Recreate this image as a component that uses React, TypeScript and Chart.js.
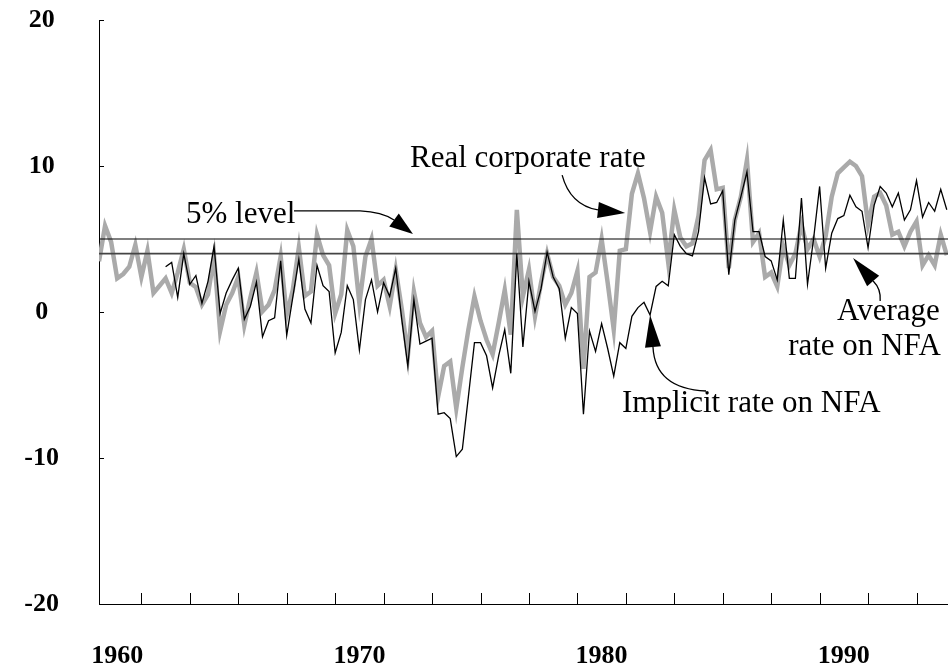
import React, { useEffect, useRef } from 'react';
import { Chart, registerables } from 'chart.js';

Chart.register(...registerables);

// ---- data -------------------------------------------------------------
// quarterly observations; first quarter plotted sits at START_YEAR
const START_YEAR = 1959.25;
const X_MIN = 1959.25;
const X_MAX = 1994.3;

const realCorporateRate = [
  3.47, 5.9, 4.8, 2.3, 2.6, 3.1, 4.6, 2.4, 4.2, 1.3,
  1.8, 2.3, 1.3, 2.7, 4.3, 2.0, 1.7, 0.5, 1.2, 3.8,
  -1.3, 0.5, 1.3, 2.4, -0.9, 1.0, 2.7, 0.05, 0.5, 1.5,
  3.8, -0.2, 1.5, 4.4, 1.1, 1.4, 5.3, 3.9, 3.2, -0.1,
  1.2, 5.6, 4.5, 0.6, 3.8, 5.0, 1.8, 2.2, 0.4, 2.9,
  0.2, -3.0, 1.4, -0.75, -1.7, -1.3, -5.8, -3.7, -3.4, -6.6,
  -3.8, -1.2, 1.07, -0.6, -1.9, -2.9, -0.75, 1.5, -1.55, 7.0,
  1.07, 2.9, -0.3, 2.0, 4.0, 2.4, 1.8, 0.5, 1.3, 2.8,
  -3.9, 2.4, 2.7, 5.0, 2.0, -1.2, 4.2, 4.3, 8.1, 9.5,
  7.8, 5.5, 7.9, 6.8, 3.4, 7.0, 5.1, 4.5, 4.7, 6.6,
  10.4, 11.1, 8.4, 8.5, 3.0, 6.3, 7.9, 10.4, 4.8, 5.4,
  2.4, 2.7, 1.75, 4.5, 3.2, 4.0, 6.0, 4.3, 5.0, 3.8,
  5.2, 7.9, 9.5, 9.9, 10.3, 10.0, 9.3, 6.0, 7.9, 8.15,
  7.3, 5.3, 5.5, 4.5, 5.5, 6.2, 3.2, 3.9, 3.2, 5.3,
  3.9,
];

// implicit rate starts 11 quarters after the corporate rate
const IMPLICIT_START = 11;
const implicitRateNFA = [
  3.1, 3.4, 1.0, 4.0, 1.9, 2.5, 0.6, 2.1, 4.5,
  -0.1, 1.3, 2.2, 3.0, -0.5, 0.4, 2.05, -1.7, -0.6, -0.4,
  3.5, -1.6, 1.0, 3.6, 0.2, -0.75, 3.2, 1.8, 1.4, -2.8,
  -1.4, 1.8, 0.85, -2.6, 0.85, 2.2, 0.0, 2.0, 1.07, 3.0,
  -0.5, -3.7, 0.85, -2.2, -2.0, -1.8, -7.0, -6.9, -7.3, -9.9,
  -9.4, -5.8, -2.1, -2.1, -3.0, -5.2, -3.0, -1.2, -4.2, 4.0,
  -2.4, 2.1, 0.04, 1.6, 4.1, 2.4, 1.6, -1.8, 0.3, -0.1,
  -7.0, -1.3, -2.7, -0.8, -2.5, -4.4, -2.1, -2.5, -0.3, 0.3,
  0.66, -0.2, 1.75, 2.1, 1.8, 5.3, 4.5, 4.0, 3.85, 5.5,
  9.2, 7.4, 7.5, 8.3, 2.55, 6.3, 7.9, 9.6, 5.5, 5.5,
  3.8, 3.5, 2.2, 6.3, 2.3, 2.3, 7.8, 1.9, 5.0, 8.6,
  3.0, 5.4, 6.4, 6.6, 8.0, 7.2, 6.9, 4.4, 7.3, 8.6,
  8.15, 7.2, 8.15, 6.3, 7.0, 9.0, 6.5, 7.5, 6.9, 8.4,
  7.0,
];

const fivePercentLevel = 5;
const averageRateNFA = 4;

const yTicks = [-20, -10, 0, 10, 20];
const xLabelYears = [1960, 1970, 1980, 1990];
const xTickMarkYears = [
  1961, 1963, 1965, 1967, 1969, 1971, 1973, 1975, 1977,
  1979, 1981, 1983, 1985, 1987, 1989, 1991, 1993,
];

// annotation texts, anchored in data coordinates [year, value]
const annotationTexts = [
  { text: '5% level', at: [1962.84, 6.1] },
  { text: 'Real corporate rate', at: [1972.09, 9.93] },
  { text: 'Implicit rate on NFA', at: [1980.84, -6.85] },
  { text: 'Average', at: [1989.72, -0.55] },
  { text: 'rate on NFA', at: [1987.7, -2.95] },
];

// arrows: start, optional straight point, quadratic control, head base, tip
const annotationArrows = [
  { start: [1967.3, 6.92], line: [1970.03, 6.92], ctrl: [1970.93, 6.85], base: [1971.43, 6.3], tip: [1972.21, 5.34] },
  { start: [1978.37, 9.38], ctrl: [1978.7, 7.33], base: [1979.85, 6.99], tip: [1980.97, 6.78] },
  { start: [1984.31, -5.41], ctrl: [1982.21, -5.27], base: [1982.12, -2.4], tip: [1982.0, -0.21] },
  { start: [1991.5, 0.75], ctrl: [1991.54, 1.58], base: [1991.21, 2.12], tip: [1990.38, 3.7] },
];

const quarterYear = (i: number) => START_YEAR + i / 4;

const SERIF = '"Liberation Serif", "Times New Roman", serif';

const overlayPlugin = {
  id: 'overlay',
  afterDatasetsDraw(chart: any) {
    const { ctx, scales } = chart;
    const xs = scales.x;
    const ys = scales.y;
    const P = (p: number[]) => [xs.getPixelForValue(p[0]), ys.getPixelForValue(p[1])];
    ctx.save();
    // inner tick marks
    ctx.strokeStyle = '#000';
    ctx.lineWidth = 1;
    const left = chart.chartArea.left;
    const bottom = chart.chartArea.bottom;
    ctx.beginPath();
    yTicks.forEach((v) => {
      if (v === -20) return;
      const y = Math.round(ys.getPixelForValue(v)) + 0.5;
      ctx.moveTo(left, y);
      ctx.lineTo(left + 5, y);
    });
    xTickMarkYears.forEach((yr) => {
      const x = Math.round(xs.getPixelForValue(yr)) + 0.5;
      ctx.moveTo(x, bottom);
      ctx.lineTo(x, bottom - 11);
    });
    ctx.stroke();

    // annotation texts
    ctx.fillStyle = '#000';
    ctx.font = `31px ${SERIF}`;
    ctx.textAlign = 'left';
    ctx.textBaseline = 'alphabetic';
    annotationTexts.forEach((a) => {
      const [x, y] = P(a.at);
      ctx.fillText(a.text, x, y);
    });

    // arrows
    ctx.lineWidth = 1.3;
    annotationArrows.forEach((a: any) => {
      const s = P(a.start);
      const c = P(a.ctrl);
      const b = P(a.base);
      const t = P(a.tip);
      ctx.beginPath();
      ctx.moveTo(s[0], s[1]);
      if (a.line) {
        const l = P(a.line);
        ctx.lineTo(l[0], l[1]);
      }
      ctx.quadraticCurveTo(c[0], c[1], b[0], b[1]);
      ctx.stroke();
      const dx = t[0] - b[0];
      const dy = t[1] - b[1];
      const len = Math.hypot(dx, dy) || 1;
      const nx = -dy / len;
      const ny = dx / len;
      const hw = 8;
      ctx.beginPath();
      ctx.moveTo(t[0], t[1]);
      ctx.lineTo(b[0] + nx * hw, b[1] + ny * hw);
      ctx.lineTo(b[0] - nx * hw, b[1] - ny * hw);
      ctx.closePath();
      ctx.fill();
    });
    ctx.restore();
  },
};

export default function App() {
  const canvasRef = useRef<HTMLCanvasElement | null>(null);

  useEffect(() => {
    const canvas = canvasRef.current;
    if (!canvas) return;

    const grayData = realCorporateRate.map((v, i) => ({ x: quarterYear(i), y: v }));
    const blackData = implicitRateNFA.map((v, i) => ({ x: quarterYear(i + IMPLICIT_START), y: v }));

    const chart = new Chart(canvas, {
      type: 'line',
      data: {
        datasets: [
          {
            label: 'Implicit rate on NFA',
            data: blackData,
            borderColor: '#000',
            borderWidth: 1.3,
            pointRadius: 0,
            tension: 0,
          },
          {
            label: '5% level',
            data: [
              { x: X_MIN, y: fivePercentLevel },
              { x: X_MAX, y: fivePercentLevel },
            ],
            borderColor: '#000',
            borderWidth: 1.1,
            pointRadius: 0,
          },
          {
            label: 'Average rate on NFA',
            data: [
              { x: X_MIN, y: averageRateNFA },
              { x: X_MAX, y: averageRateNFA },
            ],
            borderColor: '#444',
            borderWidth: 1.8,
            pointRadius: 0,
          },
          {
            label: 'Real corporate rate',
            data: grayData,
            borderColor: '#aaaaaa',
            borderWidth: 4.5,
            pointRadius: 0,
            tension: 0,
            borderJoinStyle: 'miter',
          },
        ],
      },
      options: {
        animation: false,
        responsive: false,
        maintainAspectRatio: false,
        layout: { padding: { top: 20, right: 0, bottom: 0, left: 0 } },
        plugins: {
          legend: { display: false },
          tooltip: { enabled: false },
        },
        scales: {
          x: {
            type: 'linear',
            position: 'bottom',
            min: X_MIN,
            max: X_MAX,
            afterBuildTicks: (scale: any) => {
              scale.ticks = xLabelYears.map((v) => ({ value: v }));
            },
            afterFit: (scale: any) => {
              scale.height = 67;
              scale.paddingLeft = 0;
              scale.paddingRight = 0;
            },
            grid: { display: false, drawTicks: false },
            border: { display: true, color: '#000', width: 1 },
            ticks: {
              autoSkip: false,
              maxRotation: 0,
              padding: 37,
              color: '#000',
              font: { family: SERIF, size: 26, weight: 'bold' },
              callback: (v: any) => String(v),
            },
          },
          y: {
            type: 'linear',
            position: 'left',
            min: -20,
            max: 20,
            afterBuildTicks: (scale: any) => {
              scale.ticks = yTicks.map((v) => ({ value: v }));
            },
            afterFit: (scale: any) => {
              scale.width = 99;
              scale.paddingTop = 0;
              scale.paddingBottom = 0;
            },
            grid: { display: false, drawTicks: false },
            border: { display: true, color: '#000', width: 1 },
            ticks: {
              crossAlign: 'center',
              padding: 40,
              color: '#000',
              font: { family: SERIF, size: 26, weight: 'bold' },
              callback: (v: any) => String(v),
            },
          },
        },
      },
      plugins: [overlayPlugin],
    } as any);

    return () => chart.destroy();
  }, []);

  return (
    <div style={{ position: 'fixed', left: 0, top: 0, width: 948, height: 671, background: '#fff' }}>
      <canvas ref={canvasRef} width={948} height={671} style={{ width: 948, height: 671, display: 'block' }} />
    </div>
  );
}
